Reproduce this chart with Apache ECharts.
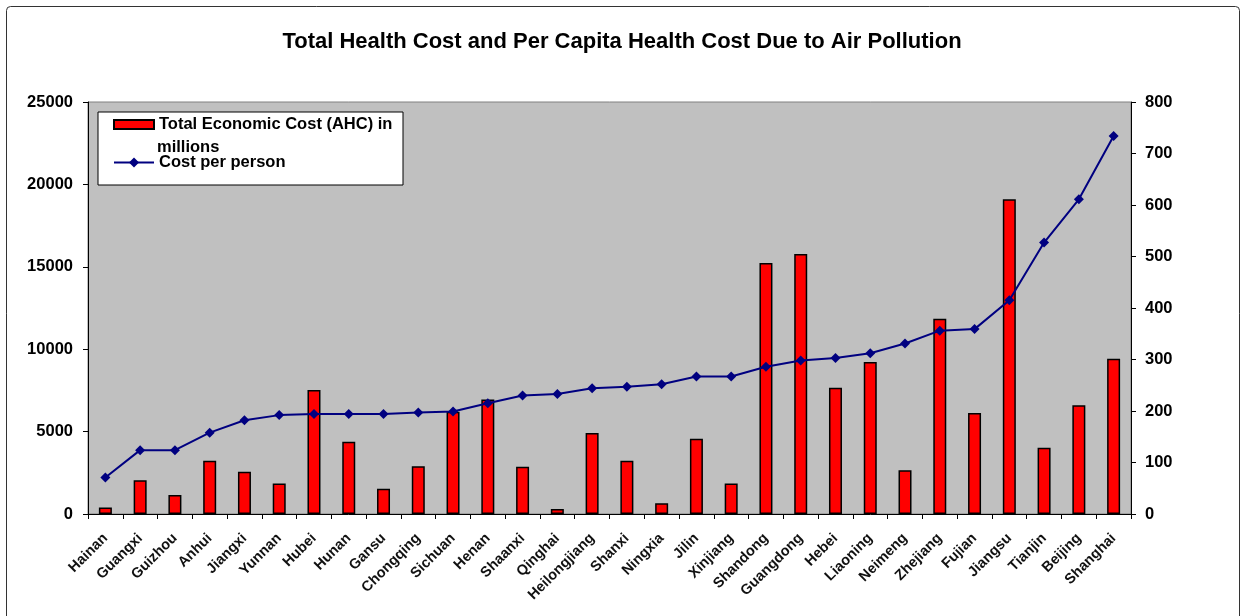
<!DOCTYPE html>
<html>
<head>
<meta charset="utf-8">
<script src="https://cdn.jsdelivr.net/npm/echarts@6/dist/echarts.min.js"></script>
<style>
html,body{margin:0;padding:0;background:#fff;}
#chart{width:1244px;height:616px;}
</style>
</head>
<body>
<div id="chart"></div>
<script>
const categories = ["Hainan","Guangxi","Guizhou","Anhui","Jiangxi","Yunnan","Hubei","Hunan","Gansu","Chongqing","Sichuan","Henan","Shaanxi","Qinghai","Heilongjiang","Shanxi","Ningxia","Jilin","Xinjiang","Shandong","Guangdong","Hebei","Liaoning","Neimeng","Zhejiang","Fujian","Jiangsu","Tianjin","Beijing","Shanghai"];
const totalCost = [400, 2050, 1150, 3230, 2560, 1850, 7520, 4390, 1530, 2900, 6200, 6950, 2860, 300, 4920, 3230, 650, 4560, 1850, 15230, 15770, 7660, 9230, 2660, 11850, 6130, 19100, 4020, 6600, 9420];
const perPerson = [71, 124, 124, 158, 182, 192, 194, 194, 194, 197, 199, 215, 230, 233, 244, 247, 252, 267, 267, 286, 298, 303, 312, 331, 356, 359, 415, 527, 611, 734];
const titleText = "Total Health Cost and Per Capita Health Cost Due to Air Pollution";
const barName = "Total Economic Cost (AHC) in millions";
const lineName = "Cost per person";

const FONT = "'Liberation Sans', Arial, sans-serif";
const chart = echarts.init(document.getElementById('chart'), null, {renderer: 'canvas'});
chart.setOption({
  animation: false,
  backgroundColor: '#fff',
  title: {
    text: titleText,
    left: 'center',
    top: 26,
    textStyle: {fontFamily: FONT, fontSize: 22, fontWeight: 'bold', color: '#000'}
  },
  graphic: [
    {type: 'rect', z: -10, shape: {x: 6.5, y: 6.5, width: 1233, height: 640, r: 4}, style: {fill: 'none', stroke: '#333', lineWidth: 1}},
    {type: 'text', z: 100, left: 157, top: 139, style: {text: 'millions', font: 'bold 16.5px ' + FONT, fill: '#000'}}
  ],
  legend: {
    orient: 'vertical',
    left: 98,
    top: 112,
    padding: [3, 4, 13, 15],
    itemGap: 19,
    itemWidth: 40,
    itemHeight: 12.5,
    backgroundColor: '#fff',
    borderColor: '#000',
    borderWidth: 1,
    borderRadius: 0,
    textStyle: {fontFamily: FONT, fontSize: 16.5, fontWeight: 'bold', color: '#000', width: 240, lineHeight: 19},
    formatter: function (n) { return n === barName ? 'Total Economic Cost (AHC) in' : n; },
    data: [
      {name: barName, icon: 'path://M0,0 L40,0 L40,9 L0,9 Z'},
      {name: lineName}
    ]
  },
  grid: {left: 88, right: 113, top: 102, bottom: 102, show: true, backgroundColor: '#c0c0c0', borderColor: '#808080', borderWidth: 1},
  xAxis: {
    type: 'category',
    data: categories,
    boundaryGap: true,
    axisLine: {lineStyle: {color: '#000', width: 1}},
    axisTick: {show: true, length: 5, alignWithLabel: false, lineStyle: {color: '#000'}},
    axisLabel: {interval: 0, rotate: 45, margin: 22, fontFamily: FONT, fontSize: 14.5, fontWeight: 'bold', color: '#111'}
  },
  yAxis: [
    {
      type: 'value', min: 0, max: 25000, interval: 5000,
      axisLine: {show: true, lineStyle: {color: '#000'}},
      axisTick: {show: true, length: 5, lineStyle: {color: '#000'}},
      splitLine: {show: false},
      axisLabel: {margin: 15, fontFamily: FONT, fontSize: 16.5, fontWeight: 'bold', color: '#000', formatter: function (v) { return String(v); }}
    },
    {
      type: 'value', min: 0, max: 800, interval: 100, position: 'right',
      axisLine: {show: true, lineStyle: {color: '#000'}},
      axisTick: {show: true, length: 5, lineStyle: {color: '#000'}},
      splitLine: {show: false},
      axisLabel: {margin: 14, fontFamily: FONT, fontSize: 16.5, fontWeight: 'bold', color: '#000', formatter: function (v) { return String(v); }}
    }
  ],
  series: [
    {
      name: barName, type: 'bar', data: totalCost, yAxisIndex: 0,
      barWidth: 13,
      itemStyle: {color: '#ff0000', borderColor: '#000', borderWidth: 1.5}
    },
    {
      name: lineName, type: 'line', data: perPerson, yAxisIndex: 1,
      symbol: 'diamond', symbolSize: 10,
      lineStyle: {color: '#000080', width: 2},
      itemStyle: {color: '#000080'}
    }
  ]
});
</script>
</body>
</html>
